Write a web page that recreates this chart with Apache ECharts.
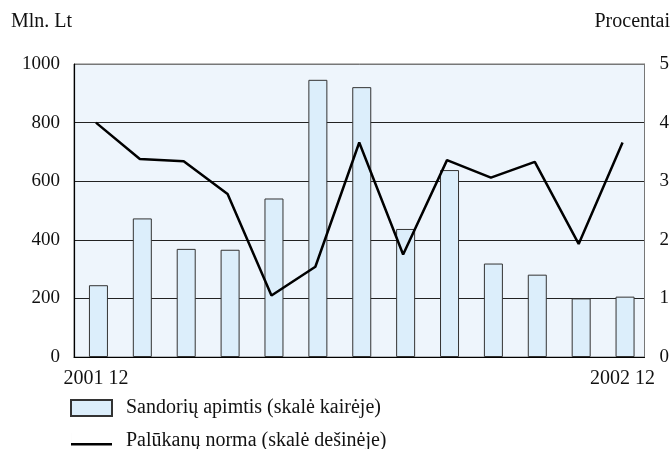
<!DOCTYPE html>
<html>
<head>
<meta charset="utf-8">
<script src="https://cdn.jsdelivr.net/npm/echarts@6/dist/echarts.min.js"></script>
<style>
html,body{margin:0;padding:0;background:#fff;}
#chart{width:672px;height:449px;}
</style>
</head>
<body>
<div id="chart"></div>
<script>
var categories = ['2001 12','2002 01','2002 02','2002 03','2002 04','2002 05','2002 06','2002 07','2002 08','2002 09','2002 10','2002 11','2002 12'];
var volume = [245, 473, 369, 366, 541, 946, 921, 437, 638, 319, 281, 200, 206];
var rate = [4.00, 3.38, 3.34, 2.78, 1.05, 1.54, 3.66, 1.75, 3.36, 3.06, 3.33, 1.93, 3.66];
var leftTicks = [0, 200, 400, 600, 800, 1000];
var rightTicks = [0, 1, 2, 3, 4, 5];
var spacer = categories.map(function(){ return 0; });

var FONT = "'Liberation Serif', 'Times New Roman', serif";
var chart = echarts.init(document.getElementById('chart'), null, {renderer:'canvas'});
chart.setOption({
  animation: false,
  backgroundColor: '#ffffff',
  textStyle: {fontFamily: FONT},
  title: [
    {text: 'Mln. Lt', left: 11, top: 12, padding: 0, textStyle: {fontFamily: FONT, fontSize: 20, fontWeight: 'normal', color: '#111'}},
    {text: 'Procentai', right: 2, top: 12, padding: 0, textStyle: {fontFamily: FONT, fontSize: 20, fontWeight: 'normal', color: '#111'}}
  ],
  grid: {left: 74, right: 25, top: 64, bottom: 92, show: true, backgroundColor: '#EEF5FC', borderColor: '#777', borderWidth: 1},
  legend: {
    orient: 'vertical', left: 70, top: 398, width: 400, height: 70, padding: 0, itemWidth: 41, itemHeight: 16, itemGap: 13,
    symbolKeepAspect: false,
    textStyle: {fontFamily: FONT, fontSize: 20, lineHeight: 20, color: '#111', padding: [0,0,0,9]},
    data: [
      {name: 'Sandorių apimtis (skalė kairėje)', icon: 'rect'},
      {name: 'Palūkanų norma (skalė dešinėje)', icon: 'path://M0,0L0.01,0L0.01,16L0,16Z M0,10L41,10L41,12.6L0,12.6Z'}
    ]
  },
  xAxis: {
    type: 'category', data: categories, boundaryGap: true,
    axisLine: {lineStyle: {color: '#000', width: 1.2}},
    axisTick: {inside: true, length: 6, interval: 0, lineStyle: {color: '#000'}},
    axisLabel: {
      interval: function(i){ return i === 0 || i === categories.length - 1; },
      margin: 12, fontFamily: FONT, fontSize: 20, color: '#111'
    },
    splitLine: {show: false}
  },
  yAxis: [
    {
      type: 'value', min: leftTicks[0], max: leftTicks[leftTicks.length-1], interval: leftTicks[1]-leftTicks[0],
      axisLine: {show: true, lineStyle: {color: '#000', width: 1.2}},
      axisTick: {show: false},
      axisLabel: {margin: 14, fontFamily: FONT, fontSize: 19, color: '#111', formatter: function(v){ return String(v); }},
      splitLine: {show: true, lineStyle: {color: ['#222','#222','#222','#222','#222','#777'], width: 1}}
    },
    {
      type: 'value', min: rightTicks[0], max: rightTicks[rightTicks.length-1], interval: rightTicks[1]-rightTicks[0],
      axisLine: {show: true, lineStyle: {color: '#777', width: 1}},
      axisTick: {show: false},
      axisLabel: {margin: 15, fontFamily: FONT, fontSize: 19, color: '#111', formatter: function(v){ return String(v); }},
      splitLine: {show: false}
    }
  ],
  series: [
    {
      name: 'spacer', type: 'bar', data: spacer, barWidth: 5, barGap: '0%', silent: true,
      itemStyle: {color: 'rgba(0,0,0,0)'}
    },
    {
      name: 'Sandorių apimtis (skalė kairėje)', type: 'bar', data: volume, barWidth: 19, barGap: '0%',
      itemStyle: {color: '#DCEEFB', borderColor: '#333', borderWidth: 1}
    },
    {
      name: 'Palūkanų norma (skalė dešinėje)', type: 'line', yAxisIndex: 1, data: rate,
      symbol: 'none', color: '#000',
      lineStyle: {color: '#000', width: 2.5}, z: 5
    }
  ]
});
</script>
</body>
</html>
